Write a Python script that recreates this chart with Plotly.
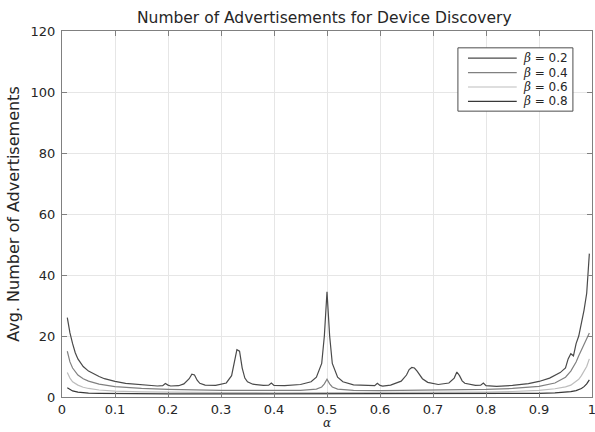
import plotly.graph_objects as go

# Sampled alpha values and average advertisement counts per beta
alpha_b02 = [0.01, 0.015, 0.02, 0.025, 0.03, 0.04, 0.05, 0.06, 0.07, 0.08, 0.1, 0.12, 0.15, 0.18,
             0.19, 0.195, 0.2, 0.205, 0.22, 0.23, 0.24, 0.245, 0.25, 0.255, 0.26, 0.27, 0.29, 0.31,
             0.32, 0.325, 0.33, 0.335, 0.34, 0.345, 0.35, 0.36, 0.38, 0.39, 0.395, 0.4, 0.42, 0.45,
             0.47, 0.48, 0.49, 0.495, 0.5, 0.505, 0.51, 0.52, 0.53, 0.55, 0.58, 0.59, 0.595, 0.6,
             0.605, 0.62, 0.64, 0.65, 0.655, 0.66, 0.665, 0.67, 0.68, 0.69, 0.71, 0.73, 0.74, 0.745,
             0.75, 0.755, 0.76, 0.78, 0.79, 0.795, 0.8, 0.82, 0.85, 0.88, 0.9, 0.92, 0.94, 0.95,
             0.955, 0.96, 0.965, 0.97, 0.975, 0.98, 0.985, 0.99, 0.995]
adv_b02 = [26, 21, 17.5, 14.5, 12.5, 10, 8.5, 7.5, 6.7, 6, 5.1, 4.5, 4, 3.6,
           3.7, 4.4, 3.9, 3.6, 3.7, 4.3, 6, 7.5, 7.2, 5.5, 4.5, 3.9, 3.8, 4.6,
           7, 11, 15.5, 15, 9.5, 6.2, 5, 4.2, 3.8, 3.9, 4.6, 3.8, 3.7, 4.1,
           5, 6.5, 11, 20, 34.5, 20, 11, 6.5, 5, 4, 3.6, 3.7, 4.5, 3.8,
           3.6, 3.9, 5.2, 7.2, 9, 9.7, 9.5, 8.5, 6, 4.8, 4.1, 4.6, 6.2, 8.2,
           7, 5.3, 4.5, 3.8, 3.9, 4.6, 3.7, 3.5, 3.8, 4.4, 5.1, 6.2, 8, 9.5,
           12.5, 14.2, 13.5, 17.5, 20, 24, 28.5, 34, 47]

alpha = [0.01, 0.015, 0.02, 0.03, 0.04, 0.05, 0.07, 0.1, 0.15, 0.2, 0.3, 0.4, 0.45, 0.48,
         0.49, 0.495, 0.5, 0.505, 0.51, 0.52, 0.55, 0.6, 0.7, 0.8, 0.85, 0.9, 0.93, 0.95,
         0.96, 0.97, 0.975, 0.98, 0.985, 0.99, 0.995]
adv_b04 = [15, 11.5, 9.5, 7.2, 6, 5.2, 4.2, 3.4, 2.8, 2.5, 2.2, 2.1, 2.2, 2.6,
           3.3, 4.3, 5.8, 4.3, 3.3, 2.6, 2.2, 2.1, 2.2, 2.5, 2.8, 3.5, 4.6, 6.5,
           8.5, 11.5, 13.5, 15.5, 17.2, 19, 21]
adv_b06 = [8, 6.2, 5, 3.9, 3.2, 2.8, 2.3, 1.9, 1.7, 1.55, 1.45, 1.4, 1.4, 1.4,
           1.45, 1.5, 1.55, 1.5, 1.45, 1.4, 1.4, 1.4, 1.45, 1.6, 1.8, 2.2, 2.7, 3.3,
           3.9, 5, 5.8, 7, 8.3, 10, 12.5]
adv_b08 = [3, 2.4, 2, 1.6, 1.4, 1.3, 1.2, 1.1, 1.05, 1.0, 1.0, 1.0, 1.0, 1.0,
           1.0, 1.0, 1.05, 1.0, 1.0, 1.0, 1.0, 1.0, 1.0, 1.05, 1.1, 1.2, 1.35, 1.55,
           1.75, 2.1, 2.4, 2.8, 3.4, 4.3, 5.6]

beta_labels = ["0.2", "0.4", "0.6", "0.8"]
x_ticks = [0, 0.1, 0.2, 0.3, 0.4, 0.5, 0.6, 0.7, 0.8, 0.9, 1]
x_tick_labels = ["0", "0.1", "0.2", "0.3", "0.4", "0.5", "0.6", "0.7", "0.8", "0.9", "1"]
y_ticks = [0, 20, 40, 60, 80, 100, 120]

line_colors = ["#4a4a4a", "#808080", "#bdbdbd", "#383838"]
series = [
    (alpha_b02, adv_b02),
    (alpha, adv_b04),
    (alpha, adv_b06),
    (alpha, adv_b08),
]

font_family = "DejaVu Sans, Verdana, sans-serif"
text_color = "#262626"

fig = go.Figure()
for (xs, ys), label, color in zip(series, beta_labels, line_colors):
    fig.add_trace(go.Scatter(x=xs, y=ys, mode="lines", name="β = " + label,
                             line=dict(color=color, width=1.2), showlegend=False))

# Boxed legend in the upper right corner of the axes (paper coordinates)
box_left, box_right, box_top, box_bottom = 0.747, 0.964, 0.954, 0.781
row_top, row_step = 0.926, 0.0395
line_x0, line_x1, text_x = 0.766, 0.858, 0.866

shapes = [dict(type="rect", xref="paper", yref="paper",
               x0=box_left, x1=box_right, y0=box_bottom, y1=box_top,
               fillcolor="white", line=dict(color="#4d4d4d", width=1), layer="above")]
annotations = []
for i, (label, color) in enumerate(zip(beta_labels, line_colors)):
    yy = row_top - i * row_step
    shapes.append(dict(type="line", xref="paper", yref="paper",
                       x0=line_x0, x1=line_x1, y0=yy, y1=yy,
                       line=dict(color=color, width=1.2), layer="above"))
    annotations.append(dict(
        xref="paper", yref="paper", x=text_x, y=yy, xanchor="left", yanchor="middle",
        showarrow=False,
        text="<span style='font-family:DejaVu Serif'><i>β</i></span> = " + label,
        font=dict(size=12, color=text_color, family=font_family)))

# x-axis label below the tick labels, resting on the bottom edge of the page
annotations.append(dict(
    xref="paper", yref="paper", x=0.5, y=-0.0945, xanchor="center", yanchor="bottom",
    showarrow=False, text="<i>α</i>",
    font=dict(size=12, color=text_color, family="DejaVu Serif, serif")))

axis_common = dict(
    showline=True, linecolor="#808080", linewidth=1.3, mirror="allticks",
    ticks="inside", ticklen=5, tickcolor="#808080",
    showgrid=True, gridcolor="#e6e6e6", gridwidth=1,
    zeroline=False, ticklabeloverflow="allow", automargin=False,
    tickfont=dict(size=13, color=text_color, family=font_family),
)

fig.update_layout(
    width=595, height=432,
    margin=dict(l=62, r=3, t=31, b=35),
    paper_bgcolor="white", plot_bgcolor="white",
    font=dict(family=font_family, color=text_color),
    title=dict(text="Number of Advertisements for Device Discovery",
               x=0.545, xanchor="center", y=0.96, yanchor="middle",
               font=dict(size=15.5, color=text_color, family=font_family)),
    xaxis=dict(range=[0, 1], tickvals=x_ticks, ticktext=x_tick_labels,
               ticklabelstandoff=0, **axis_common),
    yaxis=dict(range=[0, 120], tickvals=y_ticks, ticklabelstandoff=3,
               title=dict(text="Avg. Number of Advertisements", standoff=6,
                          font=dict(size=16, family=font_family)),
               **axis_common),
    shapes=shapes,
    annotations=annotations,
    showlegend=False,
)

fig.write_html("out.html")
